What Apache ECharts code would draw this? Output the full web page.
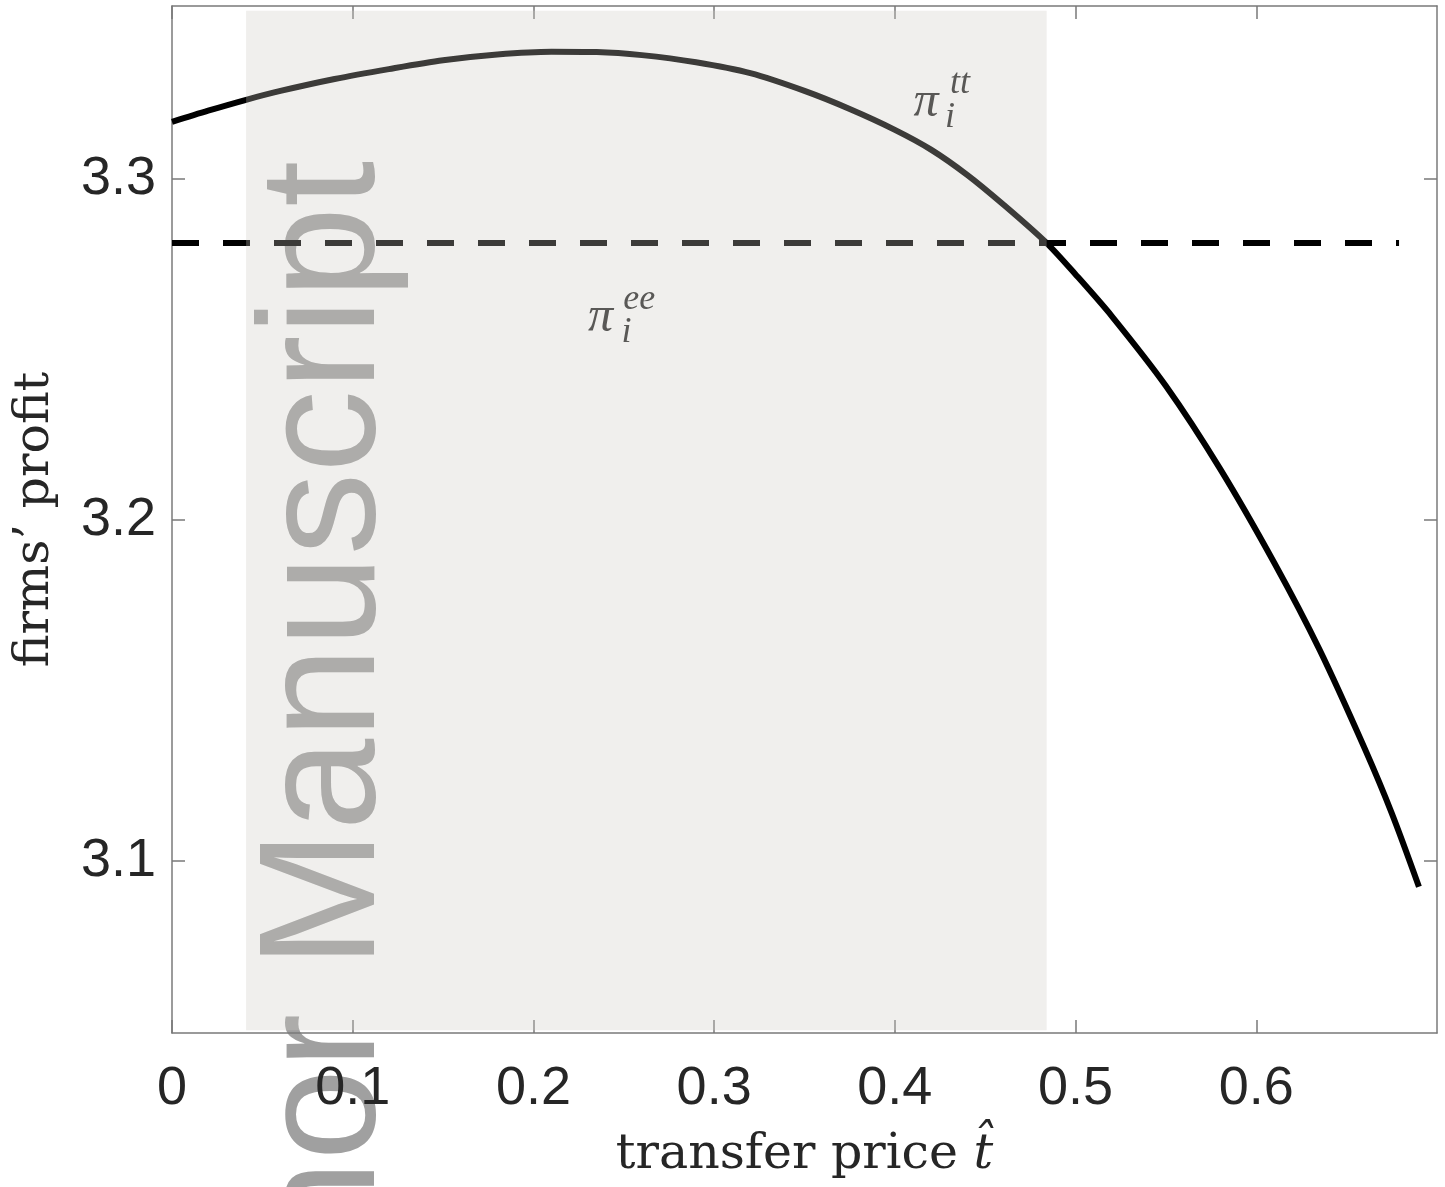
<!DOCTYPE html>
<html>
<head>
<meta charset="utf-8">
<script src="https://cdn.jsdelivr.net/npm/echarts@6/dist/echarts.min.js"></script>
<style>html,body{margin:0;padding:0;background:#fff;}#c{width:1445px;height:1187px;}</style>
</head>
<body>
<div id="c"></div>
<script>
// transfer price values (x)
const tValues = [0, 0.02, 0.041, 0.06, 0.09, 0.12, 0.15, 0.18, 0.21, 0.235, 0.26, 0.29, 0.32, 0.35, 0.375, 0.40, 0.42, 0.44, 0.46, 0.484, 0.50, 0.52, 0.55, 0.58, 0.61, 0.635, 0.66, 0.675, 0.69];
// firms' profit pi_i^tt
const profitTT = [3.3167, 3.3200, 3.3232, 3.3258, 3.3293, 3.3322, 3.3348, 3.3365, 3.3373, 3.3372, 3.3363, 3.3342, 3.3310, 3.3258, 3.3205, 3.3144, 3.3086, 3.3012, 3.2925, 3.2812, 3.2720, 3.2598, 3.2393, 3.2150, 3.1874, 3.1620, 3.1330, 3.1140, 3.0925];
// pi_i^ee (constant)
const profitEE = 3.2812;
const eeRange = [0, 0.679];
// shaded interval of t
const shadeRange = [0.041, 0.484];
const xTicks = [0, 0.1, 0.2, 0.3, 0.4, 0.5, 0.6];
const yTicks = [3.1, 3.2, 3.3];
const xRange = [0, 0.7];
const yRange = [3.0496, 3.3507];

const chart = echarts.init(document.getElementById('c'));
const gray = '#7a7a7a';
const lblColor = '#262626';
const mathFont = 'Liberation Serif';
const nameFont = 'DejaVu Serif';

function xAx(show) {
  return {
    type: 'value', min: xRange[0], max: xRange[1], position: show ? 'bottom' : 'top',
    axisLine: { show: true, onZero: false, lineStyle: { color: gray, width: 1.5 } },
    axisTick: { show: true, inside: true, length: 13, customValues: xTicks, lineStyle: { color: gray, width: 1.5 } },
    axisLabel: { show: show, customValues: xTicks, fontSize: 54, color: lblColor, fontFamily: 'Liberation Sans', margin: 29,
      formatter: v => (v === 0 ? '0' : v.toFixed(1)) },
    splitLine: { show: false },
    name: show ? 'transfer price {it|t̂}' : '',
    nameLocation: 'middle', nameGap: 98,
    nameTextStyle: { fontFamily: nameFont, fontSize: 49, color: lblColor,
      rich: { it: { fontFamily: nameFont, fontStyle: 'italic', fontSize: 49, color: lblColor } } }
  };
}
function yAx(show) {
  return {
    type: 'value', min: yRange[0], max: yRange[1], position: show ? 'left' : 'right',
    axisLine: { show: true, onZero: false, lineStyle: { color: gray, width: 1.5 } },
    axisTick: { show: true, inside: true, length: 13, customValues: yTicks, lineStyle: { color: gray, width: 1.5 } },
    axisLabel: { show: show, customValues: yTicks, fontSize: 54, color: lblColor, fontFamily: 'Liberation Sans', margin: 16,
      formatter: v => v.toFixed(1) },
    splitLine: { show: false },
    name: show ? 'firms’ profit' : '',
    nameLocation: 'middle', nameGap: 112, nameRotate: 90,
    nameTextStyle: { fontFamily: nameFont, fontSize: 49, color: lblColor }
  };
}

function mathLbl(t, v, text, size) {
  return {
    coord: [t, v], symbol: 'circle', symbolSize: 1, itemStyle: { color: 'rgba(0,0,0,0)' },
    label: { show: true, position: 'inside', formatter: text, fontFamily: mathFont, fontStyle: 'italic',
      fontSize: size, color: '#2a2a2a' }
  };
}

chart.setOption({
  animation: false,
  grid: { left: 172, right: 8, top: 6, bottom: 154, containLabel: false },
  xAxis: [xAx(true), xAx(false)],
  yAxis: [yAx(true), yAx(false)],
  graphic: [{
    type: 'text', z: -5, x: 328, y: 161, rotation: Math.PI / 2,
    style: { text: 'Author Manuscript', fontFamily: 'Liberation Sans', fontSize: 165, fill: '#a0a0a0',
      align: 'right', verticalAlign: 'middle' }
  }],
  series: [
    {
      type: 'line', name: 'pi_tt', xAxisIndex: 0, yAxisIndex: 0, z: 2,
      data: tValues.map((t, i) => [t, profitTT[i]]),
      smooth: 0.3, showSymbol: false, symbol: 'none',
      lineStyle: { color: '#000', width: 6 },
      markPoint: {
        silent: true, animation: false,
        data: [
          mathLbl(0.4172, 3.3222, 'π', 50),
          mathLbl(0.4360, 3.3281, 'tt', 36),
          mathLbl(0.4305, 3.3181, 'i', 36),
          mathLbl(0.2371, 3.2594, 'π', 50),
          mathLbl(0.2585, 3.2647, 'ee', 36),
          mathLbl(0.2515, 3.2551, 'i', 36)
        ]
      }
    },
    {
      type: 'line', name: 'pi_ee', xAxisIndex: 0, yAxisIndex: 0, z: 2,
      data: eeRange.map(t => [t, profitEE]),
      showSymbol: false, symbol: 'none',
      lineStyle: { color: '#000', width: 6, type: [27, 24], cap: 'butt' }
    },
    {
      type: 'line', name: 'shade', xAxisIndex: 0, yAxisIndex: 0, z: 5, data: [],
      markArea: {
        silent: true, z: 6,
        itemStyle: { color: 'rgba(204,200,193,0.294)' },
        data: [[{ coord: [shadeRange[0], 3.0504] }, { coord: [shadeRange[1], 3.3493] }]]
      }
    }
  ]
});
</script>
</body>
</html>
